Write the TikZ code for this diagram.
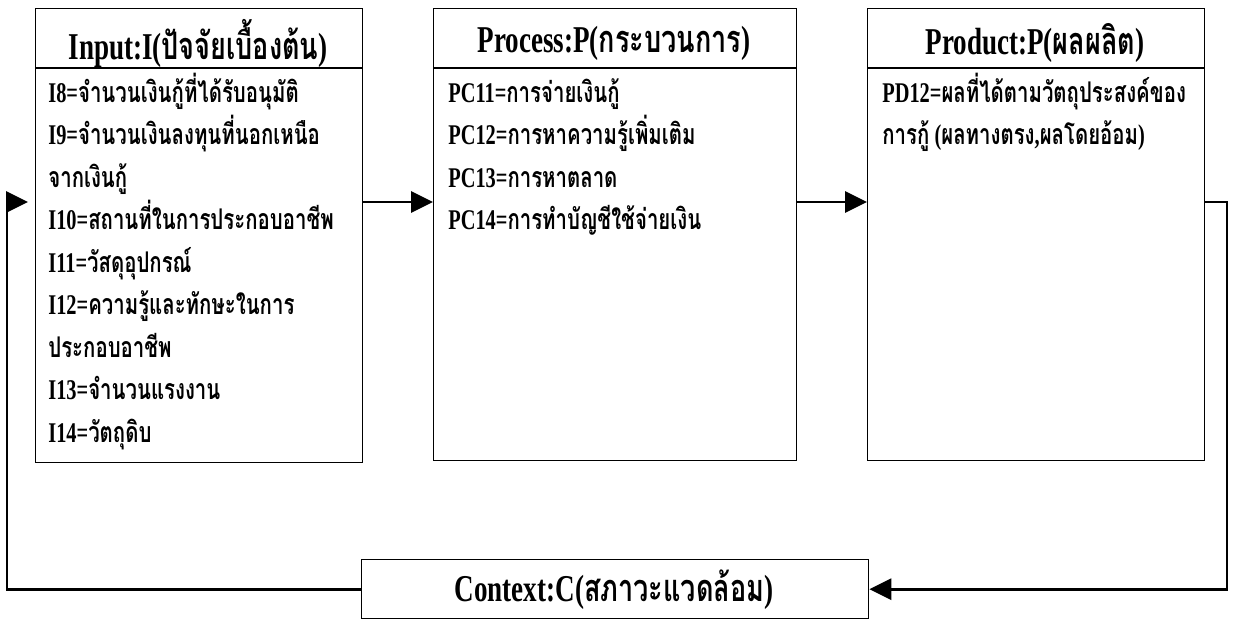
\documentclass[tikz,border=0pt]{standalone}
\usepackage{fontspec}
\usepackage{graphicx}
\setmainfont{Liberation Serif}
\newfontfamily\thaifont[Script=Thai]{Loma}
\usetikzlibrary{arrows.meta}

\newcommand{\thaitxt}[1]{{\thaifont #1}}
\newcommand{\tall}[1]{\scalebox{1}[1.4]{#1}}

\begin{document}
\begin{tikzpicture}[x=0.02cm, y=-0.02cm,
    box/.style={draw, line width=0.8pt, inner sep=0pt, anchor=north west},
    headtxt/.style={inner sep=0pt, font=\fontsize{15.4}{18}\selectfont\bfseries},
    rowtxt/.style={anchor=base west, inner sep=0pt, font=\fontsize{11.6}{14}\selectfont\bfseries},
    link/.style={line width=1.6pt, -{Triangle[length=12.5pt,width=12pt]}}]

	\useasboundingbox (0,0) rectangle (1236,619);

	% the four boxes
	\node[box, minimum width=6.54cm, minimum height=9.08cm] (input) at (35,8) {};
	\node[box, minimum width=7.26cm, minimum height=9.04cm] (process) at (433,8) {};
	\node[box, minimum width=6.74cm, minimum height=9.04cm] (product) at (867,8) {};
	\node[box, minimum width=10.14cm, minimum height=1.18cm] (context) at (361,559) {};

	\coordinate (hd) at (0,68);
	\draw[line width=0.8pt] (input.west |- hd) -- (input.east |- hd);
	\draw[line width=0.8pt] (process.west |- hd) -- (process.east |- hd);
	\draw[line width=0.8pt] (product.west |- hd) -- (product.east |- hd);

	% headings
	\node[headtxt] (inhead) at (198,43) {\tall{Input:I(\thaitxt{ปัจจัยเบื้องต้น})}};
	\node[headtxt] (prhead) at (614,43) {\tall{Process:P(\thaitxt{กระบวนการ})}};
	\node[headtxt] (pdhead) at (1035,43) {\tall{Product:P(\thaitxt{ผลผลิต})}};
	\node[headtxt] (cxhead) at (614,590) {\tall{Context:C(\thaitxt{สภาวะแวดล้อม})}};

	% input items
	\begin{scope}[every node/.style={rowtxt}]
		\node (i8) at (48,102) {\tall{I8=\thaitxt{จำนวนเงินกู้ที่ได้รับอนุมัติ}}};
		\node (i9) at (48,144.5) {\tall{I9=\thaitxt{จำนวนเงินลงทุนที่นอกเหนือ}}};
		\node (i9b) at (48,187) {\tall{\thaitxt{จากเงินกู้}}};
		\node (i10) at (48,229.5) {\tall{I10=\thaitxt{สถานที่ในการประกอบอาชีพ}}};
		\node (i11) at (48,272) {\tall{I11=\thaitxt{วัสดุอุปกรณ์}}};
		\node (i12) at (48,314.5) {\tall{I12=\thaitxt{ความรู้และทักษะในการ}}};
		\node (i12b) at (48,357) {\tall{\thaitxt{ประกอบอาชีพ}}};
		\node (i13) at (48,399.5) {\tall{I13=\thaitxt{จำนวนแรงงาน}}};
		\node (i14) at (48,442) {\tall{I14=\thaitxt{วัตถุดิบ}}};
	\end{scope}

	% process items
	\begin{scope}[every node/.style={rowtxt}]
		\node (pc11) at (448,102) {\tall{PC11=\thaitxt{การจ่ายเงินกู้}}};
		\node (pc12) at (448,144.5) {\tall{PC12=\thaitxt{การหาความรู้เพิ่มเติม}}};
		\node (pc13) at (448,187) {\tall{PC13=\thaitxt{การหาตลาด}}};
		\node (pc14) at (448,229.5) {\tall{PC14=\thaitxt{การทำบัญชีใช้จ่ายเงิน}}};
	\end{scope}

	% product items
	\begin{scope}[every node/.style={rowtxt}]
		\node (pd12) at (882,102) {\tall{PD12=\thaitxt{ผลที่ได้ตามวัตถุประสงค์ของ}}};
		\node (pd12b) at (882,144.5) {\tall{\thaitxt{การกู้} (\thaitxt{ผลทางตรง},\thaitxt{ผลโดยอ้อม})}};
	\end{scope}

	% connectors
	\coordinate (lvl) at (0,202);
	\coordinate (rt) at (1227,0);
	\coordinate (lf) at (7,0);
	\draw[link] (input.east |- lvl) -- (process.west |- lvl);
	\draw[link] (process.east |- lvl) -- (product.west |- lvl);
	\draw[link] (product.east |- lvl) -| (rt |- context.east) -- (context.east);
	\draw[link, shorten >=4pt] (context.west) -| (lf |- lvl) -- (input.west |- lvl);
\end{tikzpicture}
\end{document}
